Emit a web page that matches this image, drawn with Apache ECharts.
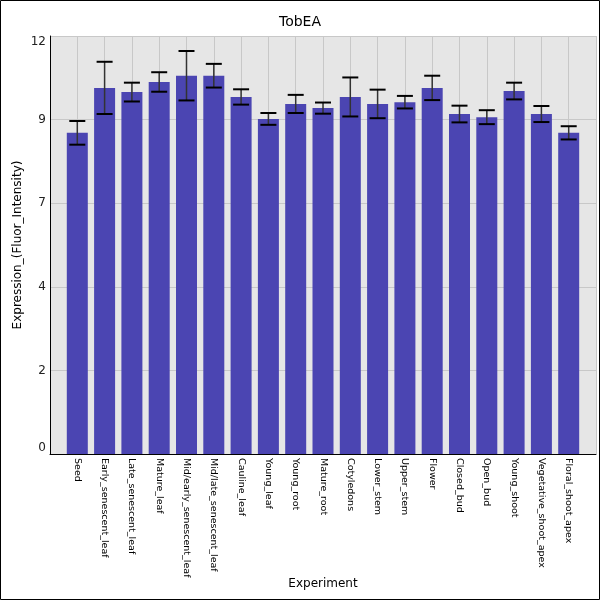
<!DOCTYPE html>
<html>
<head>
<meta charset="utf-8">
<script src="https://cdn.jsdelivr.net/npm/echarts@6/dist/echarts.min.js"></script>
<style>
  html, body { margin: 0; padding: 0; background: #fff; }
  #main { width: 600px; height: 600px; }
</style>
</head>
<body>
<div id="main"></div>
<script>
const categories = [
  "Seed", "Early_senescent_leaf", "Late_senescent_leaf", "Mature_leaf",
  "Mid/early_senescent_leaf", "Mid/late_senescent_leaf", "Cauline_leaf",
  "Young_leaf", "Young_root", "Mature_root", "Cotyledons", "Lower_stem",
  "Upper_stem", "Flower", "Closed_bud", "Open_bud", "Young_shoot",
  "Vegetative_shoot_apex", "Floral_shoot_apex"
];
const means = [9.22, 10.51, 10.39, 10.68, 10.86, 10.86, 10.25, 9.62, 10.05, 9.93,
  10.25, 10.05, 10.10, 10.51, 9.76, 9.67, 10.42, 9.76, 9.22];
const errors = [0.34, 0.75, 0.27, 0.28, 0.71, 0.34, 0.22, 0.17, 0.26, 0.16,
  0.56, 0.41, 0.18, 0.35, 0.24, 0.20, 0.24, 0.23, 0.19];

const barData = means.map((v, i) => [i, v]);
const errData = means.map((v, i) => [i, v - errors[i], v + errors[i]]);

const myChart = echarts.init(document.getElementById("main"));
myChart.setOption({
  animation: false,
  textStyle: { fontFamily: "DejaVu Sans" },
  title: {
    text: "TobEA",
    left: "center",
    top: 10,
    textStyle: { fontSize: 14, fontWeight: "normal", color: "#000", fontFamily: "DejaVu Sans" },
  },
  graphic: [
    {
      type: "rect",
      shape: { x: 0.5, y: 0.5, width: 599, height: 599 },
      style: { fill: "none", stroke: "#000", lineWidth: 1 },
      z: 100,
    },
  ],
  grid: {
    left: 50,
    right: 4,
    top: 36,
    bottom: 146,
    outerBoundsMode: "none",
    show: true,
    backgroundColor: "#e6e6e6",
    borderWidth: 0,
  },
  xAxis: {
    type: "value",
    min: -1,
    max: 19,
    interval: 1,
    name: "Experiment",
    nameLocation: "middle",
    nameGap: 124,
    nameMoveOverlap: false,
    nameTextStyle: { fontSize: 12, color: "#000" },
    axisLine: { show: true, onZero: false, lineStyle: { color: "#000", width: 1 } },
    axisTick: { show: false },
    splitLine: { show: true, lineStyle: { color: "#c8c8c8", width: 1 } },
    axisLabel: {
      rotate: -90,
      fontSize: 9.5,
      margin: 4,
      color: "#000",
      formatter: (v) => categories[v] || "",
    },
  },
  yAxis: {
    type: "value",
    min: 0,
    max: 12,
    interval: 2.4,
    name: "Expression_(Fluor_Intensity)",
    nameLocation: "middle",
    nameGap: 26,
    nameMoveOverlap: false,
    nameTextStyle: { fontSize: 12, color: "#000" },
    axisLine: { show: true, onZero: false, lineStyle: { color: "#000", width: 1 } },
    axisTick: { show: false },
    splitLine: { show: true, lineStyle: { color: "#c8c8c8", width: 1 } },
    axisLabel: {
      fontSize: 12,
      margin: 4,
      color: "#222",
      verticalAlignMinLabel: "bottom",
      verticalAlignMaxLabel: "top",
      formatter: (v) => String(Math.floor(v + 1e-9)),
    },
  },
  series: [
    {
      name: "mean",
      type: "bar",
      data: barData,
      barWidth: 21,
      itemStyle: { color: "#4b45b2" },
    },
    {
      name: "error",
      type: "custom",
      data: errData,
      z: 10,
      renderItem: (params, api) => {
        const x = api.value(0);
        const top = api.coord([x, api.value(2)]);
        const bot = api.coord([x, api.value(1)]);
        const hw = 8;
        return {
          type: "group",
          children: [
            {
              type: "line",
              shape: { x1: top[0], y1: top[1], x2: bot[0], y2: bot[1] },
              style: { stroke: "#333", lineWidth: 1.5 },
            },
            {
              type: "line",
              shape: { x1: top[0] - hw, y1: top[1], x2: top[0] + hw, y2: top[1] },
              style: { stroke: "#000", lineWidth: 2 },
            },
            {
              type: "line",
              shape: { x1: bot[0] - hw, y1: bot[1], x2: bot[0] + hw, y2: bot[1] },
              style: { stroke: "#000", lineWidth: 2 },
            },
          ],
        };
      },
    },
  ],
});
</script>
</body>
</html>
